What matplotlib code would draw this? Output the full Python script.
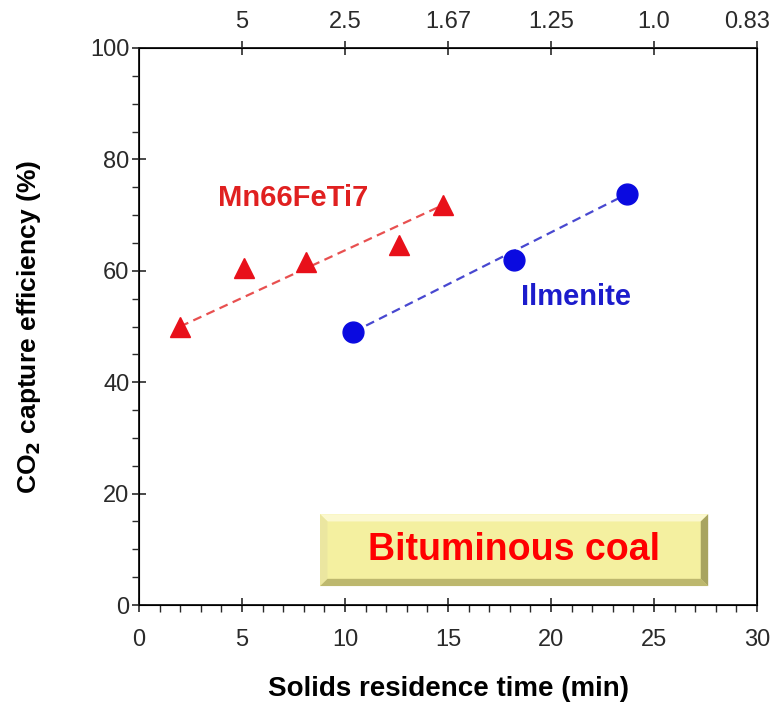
import matplotlib
matplotlib.use('Agg')
import matplotlib.pyplot as plt
from matplotlib.patches import Polygon, Rectangle
from matplotlib.ticker import MultipleLocator
from matplotlib.transforms import ScaledTranslation

# data
mn_time = [2.0, 5.1, 8.1, 12.6, 14.75]
mn_eff = [50.0, 60.5, 61.6, 64.6, 71.8]
ilm_time = [10.4, 18.2, 23.7]
ilm_eff = [49.0, 61.9, 73.8]
top_ticks = [5, 10, 15, 20, 25, 30]
top_labels = ['5', '2.5', '1.67', '1.25', '1.0', '0.83']

plt.rcParams['font.family'] = ['Liberation Sans', 'DejaVu Sans']

fig = plt.figure(figsize=(7.7, 7.1), dpi=100)
ax = fig.add_axes([139 / 770, 105 / 710, 618 / 770, 557 / 710])

red = '#e8101a'
blue = '#0a0ae0'

# fit lines (dashed) between end points
ax.plot([mn_time[0], mn_time[-1]], [mn_eff[0], mn_eff[-1]], ls='--', color='#e85050',
        lw=1.6, dashes=(4, 2.5), zorder=2)
ax.plot([ilm_time[0], ilm_time[-1]], [ilm_eff[0], ilm_eff[-1]], ls='--', color='#4848d0',
        lw=1.6, dashes=(4, 2.5), zorder=2)
ax.plot(mn_time, mn_eff, ls='none', marker='^', ms=15, color=red, mec=red, zorder=3)
ax.plot(ilm_time, ilm_eff, ls='none', marker='o', ms=15, color=blue, mec=blue, zorder=3)

ax.text(7.5, 73, 'Mn66FeTi7', color='#e02020', fontsize=21, fontweight='bold',
        ha='center', va='center')
ax.text(21.2, 55.3, 'Ilmenite', color='#1c1ccc', fontsize=21, fontweight='bold',
        ha='center', va='center')

ax.set_xlim(0, 30)
ax.set_ylim(0, 100)
ax.xaxis.set_major_locator(MultipleLocator(5))
ax.xaxis.set_minor_locator(MultipleLocator(1))
ax.yaxis.set_major_locator(MultipleLocator(20))
ax.yaxis.set_minor_locator(MultipleLocator(5))
ax.tick_params(which='major', direction='inout', length=10, width=1.2, labelsize=17,
               colors='#2a2a2a', pad=6)
ax.tick_params(which='minor', direction='out', length=5, width=1.0, colors='#2a2a2a')
ax.tick_params(axis='x', pad=12)
ax.tick_params(axis='y', pad=2)
for s in ax.spines.values():
    s.set_linewidth(1.4)
    s.set_color('#222222')

ax.set_xlabel('Solids residence time (min)', fontsize=20, fontweight='bold')
ax.set_ylabel('CO$_\\mathbf{2}$ capture efficiency (%)', fontsize=19, fontweight='bold')
ax.xaxis.set_label_coords(0.5, -0.128)
ax.yaxis.set_label_coords(-0.155, 0.5)

ax2 = ax.twiny()
ax2.set_xlim(ax.get_xlim())
ax2.set_xticks(top_ticks)
ax2.set_xticklabels(top_labels)
ax2.tick_params(direction='inout', length=10, width=1.2, labelsize=17, colors='#2a2a2a', pad=6)
# keep the last labels inside the figure
ax2.get_xticklabels()[-1].set_transform(ax2.get_xticklabels()[-1].get_transform()
                                        + ScaledTranslation(-0.1, 0, fig.dpi_scale_trans))
ax.get_xticklabels()[-1].set_transform(ax.get_xticklabels()[-1].get_transform()
                                       + ScaledTranslation(-0.03, 0, fig.dpi_scale_trans))

# "Bituminous coal" bevelled box (axes coords)
x0, x1, y0, y1 = 0.293, 0.921, 0.034, 0.163
bx, by = 0.012, 0.013
tr = ax.transAxes
ax.add_patch(Rectangle((x0, y0), x1 - x0, y1 - y0, transform=tr, fc='#f4f0a0', ec='none', zorder=4))
ax.add_patch(Polygon([(x0, y1), (x1, y1), (x1 - bx, y1 - by), (x0 + bx, y1 - by)], transform=tr,
                     fc='#fbf8cf', ec='none', zorder=5))
ax.add_patch(Polygon([(x0, y0), (x0, y1), (x0 + bx, y1 - by), (x0 + bx, y0 + by)], transform=tr,
                     fc='#ebe6a0', ec='none', zorder=5))
ax.add_patch(Polygon([(x0, y0), (x1, y0), (x1 - bx, y0 + by), (x0 + bx, y0 + by)], transform=tr,
                     fc='#bdb86e', ec='none', zorder=5))
ax.add_patch(Polygon([(x1, y0), (x1, y1), (x1 - bx, y1 - by), (x1 - bx, y0 + by)], transform=tr,
                     fc='#a8a460', ec='none', zorder=5))
ax.text((x0 + x1) / 2, (y0 + y1) / 2, 'Bituminous coal', transform=tr, color='#ff0000',
        fontsize=27, fontweight='bold', ha='center', va='center', zorder=6)

fig.savefig('out.png', dpi=100)
